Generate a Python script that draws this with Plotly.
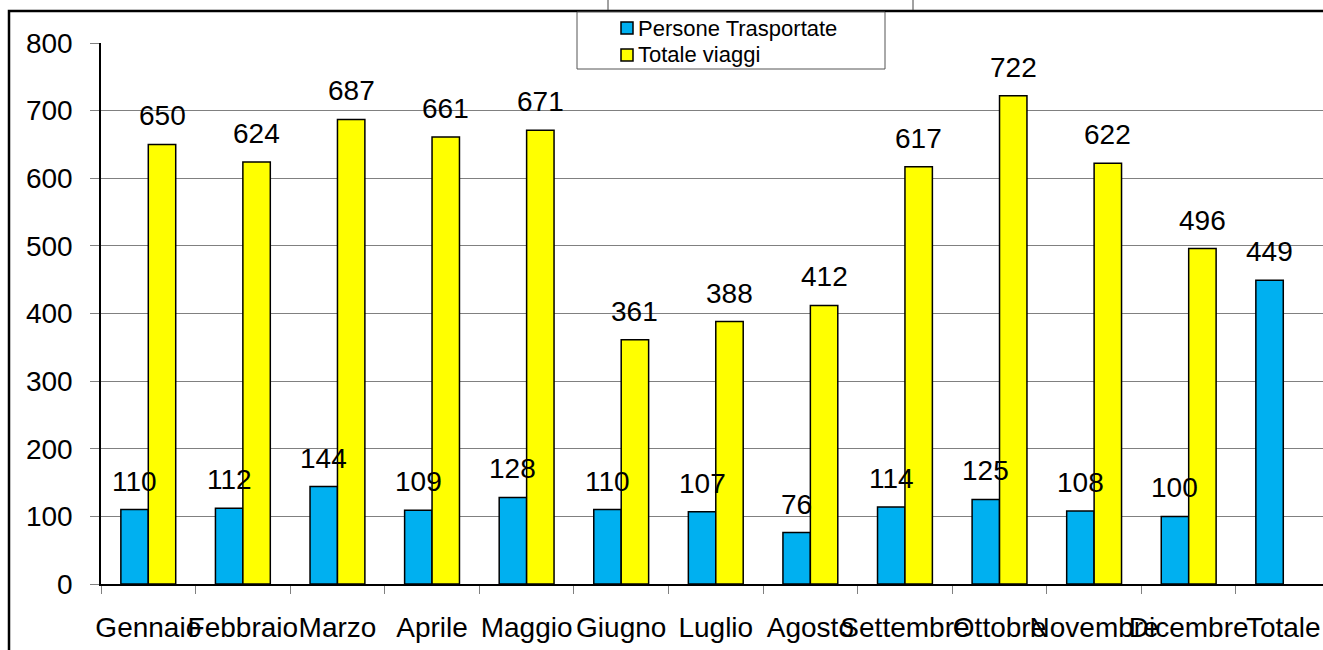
import plotly.graph_objects as go

categories = ["Gennaio", "Febbraio", "Marzo", "Aprile", "Maggio", "Giugno", "Luglio",
              "Agosto", "Settembre", "Ottobre", "Novembre", "Dicembre", "Totale"]
persone = [110, 112, 144, 109, 128, 110, 107, 76, 114, 125, 108, 100, 449]
viaggi = [650, 624, 687, 661, 671, 361, 388, 412, 617, 722, 622, 496, None]
y_ticks = [0, 100, 200, 300, 400, 500, 600, 700, 800]

W, H = 1323, 650
L, R, T, B = 101, 0, 43, 66
PW = W - L - R
PH = H - T - B
FONT = "Liberation Sans, Arial, sans-serif"
BLUE = "#00B0F0"
YELLOW = "#FFFF00"


def px(X):  # page pixel -> paper
    return (X - L) / PW


def py(Y):
    return (H - B - Y) / PH


fig = go.Figure()
fig.add_trace(go.Bar(x=categories, y=persone, name="Persone Trasportate",
                     marker=dict(color=BLUE, line=dict(color="black", width=1.5))))
fig.add_trace(go.Bar(x=categories, y=viaggi, name="Totale viaggi",
                     marker=dict(color=YELLOW, line=dict(color="black", width=1.5))))

annotations = []
half = 0.29 * PW / 12.92 / 2  # half bar width in px
for c, v in zip(categories, persone):
    if v is not None:
        annotations.append(dict(x=c, y=v, xref="x", yref="y", text=str(v), showarrow=False,
                                xshift=-half, yshift=11, yanchor="bottom",
                                font=dict(family=FONT, size=28, color="black")))
for c, v in zip(categories, viaggi):
    if v is not None:
        annotations.append(dict(x=c, y=v, xref="x", yref="y", text=str(v), showarrow=False,
                                xshift=half, yshift=11, yanchor="bottom",
                                font=dict(family=FONT, size=28, color="black")))

# manual legend
legend_items = [("Persone Trasportate", BLUE, 28), ("Totale viaggi", YELLOW, 55)]
shapes = [
    dict(type="rect", xref="paper", yref="paper", x0=px(9), x1=px(1400), y0=py(700), y1=py(11),
         line=dict(color="black", width=2.5), fillcolor="rgba(0,0,0,0)", layer="above"),
    dict(type="line", xref="paper", yref="paper", x0=px(608), x1=px(608), y0=py(10), y1=py(0),
         line=dict(color="#444444", width=1), layer="above"),
    dict(type="line", xref="paper", yref="paper", x0=px(913), x1=px(913), y0=py(10), y1=py(0),
         line=dict(color="#444444", width=1), layer="above"),
    dict(type="rect", xref="paper", yref="paper", x0=px(577), x1=px(885), y0=py(69), y1=py(12),
         line=dict(color="#555555", width=1), fillcolor="white", layer="above"),
]
for name, col, yc in legend_items:
    shapes.append(dict(type="rect", xref="paper", yref="paper", x0=px(621), x1=px(633),
                       y0=py(yc + 6), y1=py(yc - 6), line=dict(color="black", width=1.5),
                       fillcolor=col, layer="above"))
    annotations.append(dict(x=px(636), y=py(yc), xref="paper", yref="paper", text=name,
                            showarrow=False, xanchor="left", yanchor="middle",
                            font=dict(family=FONT, size=22, color="black")))

fig.update_layout(
    width=W, height=H,
    margin=dict(l=L, r=R, t=T, b=B, autoexpand=False),
    paper_bgcolor="white", plot_bgcolor="white",
    barmode="group", bargap=0.42, bargroupgap=0,
    showlegend=False,
    font=dict(family=FONT, size=28, color="black"),
    annotations=annotations,
    shapes=shapes,
)
fig.update_xaxes(
    type="category", range=[-0.5, 12.42], tickmode="linear", dtick=1, tickangle=0,
    automargin=False,
    showline=True, linecolor="black", linewidth=1.5,
    ticks="outside", tickson="boundaries", ticklen=8, tickcolor="#808080", tickwidth=1,
    ticklabelstandoff=18, showgrid=False,
    tickfont=dict(family=FONT, size=28, color="black"),
)
fig.update_yaxes(
    range=[0, 800], tickmode="array", tickvals=y_ticks, ticktext=[str(t) for t in y_ticks],
    automargin=False,
    showline=True, linecolor="black", linewidth=1.5,
    ticks="outside", ticklen=9, tickcolor="#808080", tickwidth=1,
    ticklabelstandoff=12,
    showgrid=True, gridcolor="#808080", gridwidth=1, zeroline=False,
    tickfont=dict(family=FONT, size=28, color="black"),
)

fig.write_html("out.html", config={"displayModeBar": False},
               post_script="document.body.style.margin='0';document.body.style.overflow='hidden';")
